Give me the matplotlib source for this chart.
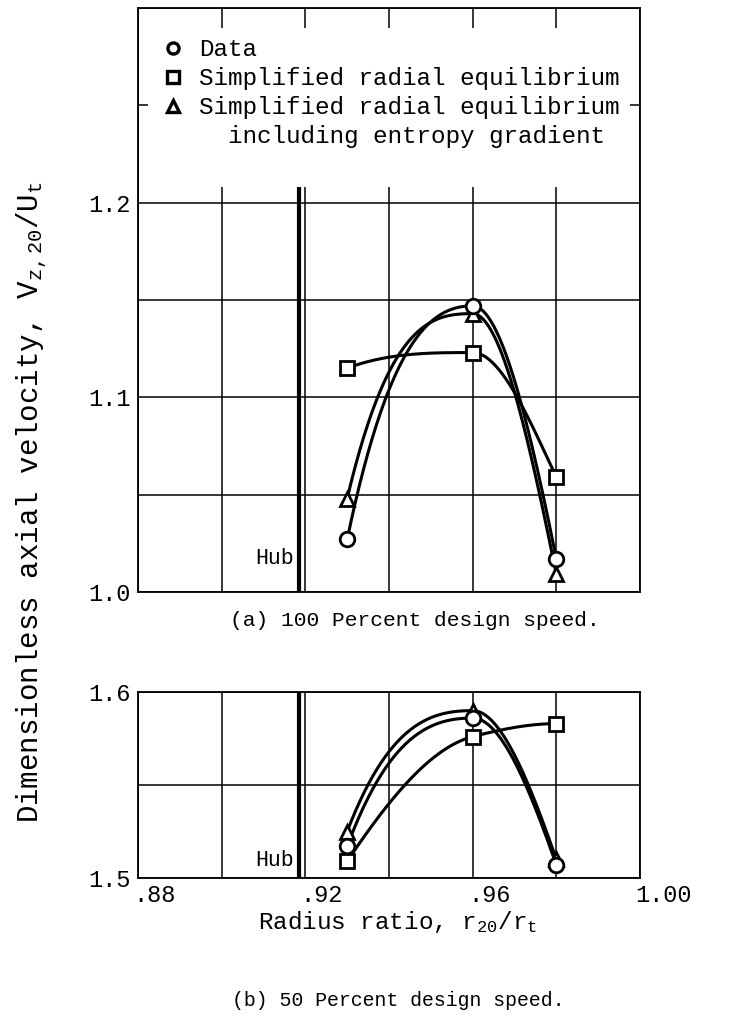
import numpy as np
import matplotlib
matplotlib.use("Agg")
import matplotlib.pyplot as plt
from matplotlib.lines import Line2D
from matplotlib.patches import Rectangle

# ---- data -------------------------------------------------------------
radius = [0.93, 0.96, 0.98]

# (a) 100 percent design speed
a_data = [1.027, 1.147, 1.017]
a_simple = [1.115, 1.123, 1.059]
a_entropy = [1.048, 1.143, 1.009]

# (b) 50 percent design speed
b_data = [1.517, 1.586, 1.507]
b_simple = [1.509, 1.576, 1.583]
b_entropy = [1.525, 1.590, 1.510]

hub_radius = 0.9185
x_ticks = [0.88, 0.92, 0.96, 1.00]
x_tick_labels = [".88", ".92", ".96", "1.00"]
a_yticks = [1.0, 1.1, 1.2]
b_yticks = [1.5, 1.6]

legend_labels = ["Data",
                 "Simplified radial equilibrium",
                 "Simplified radial equilibrium",
                 "  including entropy gradient"]

# ---- style ------------------------------------------------------------
FONT = "Liberation Mono"
plt.rcParams["font.family"] = [FONT, "DejaVu Sans Mono"]
plt.rcParams["mathtext.fontset"] = "custom"
plt.rcParams["mathtext.rm"] = FONT
plt.rcParams["mathtext.it"] = FONT
plt.rcParams["mathtext.bf"] = FONT

W, H = 741, 1029
fig = plt.figure(figsize=(W / 100, H / 100), dpi=100)


def pchip(xk, yk, n=200):
    """Shape-preserving cubic through the given points (faired curve)."""
    xk = np.asarray(xk, float)
    yk = np.asarray(yk, float)
    h = np.diff(xk)
    d = np.diff(yk) / h
    m = np.zeros_like(yk)
    for k in range(1, len(xk) - 1):
        if d[k - 1] * d[k] <= 0:
            m[k] = 0.0
        else:
            w1 = 2 * h[k] + h[k - 1]
            w2 = h[k] + 2 * h[k - 1]
            m[k] = (w1 + w2) / (w1 / d[k - 1] + w2 / d[k])

    def end(h0, h1, d0, d1):
        s = ((2 * h0 + h1) * d0 - h0 * d1) / (h0 + h1)
        if np.sign(s) != np.sign(d0):
            return 0.0
        if np.sign(d0) != np.sign(d1) and abs(s) > 3 * abs(d0):
            return 3 * d0
        return s

    m[0] = end(h[0], h[1], d[0], d[1])
    m[-1] = end(h[-1], h[-2], d[-1], d[-2])
    xs = np.linspace(xk[0], xk[-1], n)
    idx = np.clip(np.searchsorted(xk, xs) - 1, 0, len(h) - 1)
    t = (xs - xk[idx]) / h[idx]
    h00 = 2 * t**3 - 3 * t**2 + 1
    h10 = t**3 - 2 * t**2 + t
    h01 = -2 * t**3 + 3 * t**2
    h11 = t**3 - t**2
    ys = (h00 * yk[idx] + h10 * h[idx] * m[idx]
          + h01 * yk[idx + 1] + h11 * h[idx] * m[idx + 1])
    return xs, ys


def px_axes(left, top, right, bottom):
    return fig.add_axes([left / W, 1 - bottom / H,
                         (right - left) / W, (bottom - top) / H])


def setup(ax, ylim, yticks, show_x, hub_top):
    ax.set_xlim(0.88, 1.00)
    ax.set_ylim(*ylim)
    ax.set_xticks(np.arange(0.88, 1.0001, 0.02), minor=True)
    ax.set_yticks(np.arange(ylim[0], ylim[1] + 1e-6, 0.05), minor=True)
    ax.set_yticks(yticks)
    ax.set_yticklabels([f"{v:.1f}" for v in yticks])
    ax.set_xticks(x_ticks)
    ax.set_xticklabels([])
    ax.grid(True, which="both", color="black", lw=1.1, zorder=1)
    ax.tick_params(which="both", length=0, labelsize=17, pad=5,
                   colors="black")
    if show_x:
        for xv, lab in zip(x_ticks, x_tick_labels):
            ax.annotate(lab, (xv, ylim[0]), xytext=(-3.5, -4),
                        textcoords="offset points", ha="left", va="top",
                        fontsize=17, annotation_clip=False)
    for s in ax.spines.values():
        s.set_linewidth(1.3)
        s.set_zorder(5)
    ax.axvline(hub_radius, ymax=hub_top, color="black", lw=3.0, zorder=2)
    ax.text(hub_radius - 0.0012, ylim[0] + 0.004 * (ylim[1] - ylim[0]) / 0.1,
            "Hub", ha="right", va="bottom", fontsize=15.5, zorder=3)


def draw_series(ax, ys, marker, ms):
    xs, yc = pchip(radius, ys)
    ax.plot(xs, yc, color="black", lw=2.2, zorder=3, solid_capstyle="round")
    ax.plot(radius, ys, ls="none", marker=marker, ms=ms, mfc="white",
            mec="black", mew=2.0, zorder=4, clip_on=False)


# ---- (a) 100 percent design speed -------------------------------------
ax1 = px_axes(138, 8, 640, 592)
setup(ax1, (1.0, 1.3), a_yticks, False, (1.208 - 1.0) / 0.3)
draw_series(ax1, a_simple, "s", 10.5)
draw_series(ax1, a_entropy, "^", 10.5)
draw_series(ax1, a_data, "o", 10.5)

# blank panel behind the key
ax1.add_patch(Rectangle((0.8825, 1.208), 0.1150, 0.0815,
                        facecolor="white", edgecolor="none", zorder=2.5))
handles = [Line2D([], [], ls="none", marker=m, ms=8, mfc="white",
                  mec="black", mew=2.4) for m in ("o", "s", "^")]
handles.append(Line2D([], [], ls="none", marker=None))
leg = ax1.legend(handles, legend_labels, loc="upper left",
                 bbox_to_anchor=(0.03, 0.965), frameon=False, fontsize=17.5,
                 handlelength=0.8, handletextpad=0.7, labelspacing=0.25,
                 borderaxespad=0.0)
leg.set_zorder(6)

fig.text(415 / W, 1 - 620 / H, "(a) 100 Percent design speed.",
         ha="center", va="center", fontsize=15.3)

# ---- (b) 50 percent design speed --------------------------------------
ax2 = px_axes(138, 692, 640, 878)
setup(ax2, (1.5, 1.6), b_yticks, True, 1.0)
draw_series(ax2, b_simple, "s", 10.5)
draw_series(ax2, b_entropy, "^", 10.5)
draw_series(ax2, b_data, "o", 10.5)

fig.text(398 / W, 1 - 922 / H, r"Radius ratio, r$_{20}$/r$_{t}$",
         ha="center", va="center", fontsize=17.5)
fig.text(398 / W, 1 - 1000 / H, "(b) 50 Percent design speed.",
         ha="center", va="center", fontsize=14.3)

fig.text(32 / W, 1 - 502 / H,
         r"Dimensionless axial velocity, V$_{z,20}$/U$_{t}$",
         rotation=90, ha="center", va="center", fontsize=21)

fig.savefig("out.png", dpi=100)
